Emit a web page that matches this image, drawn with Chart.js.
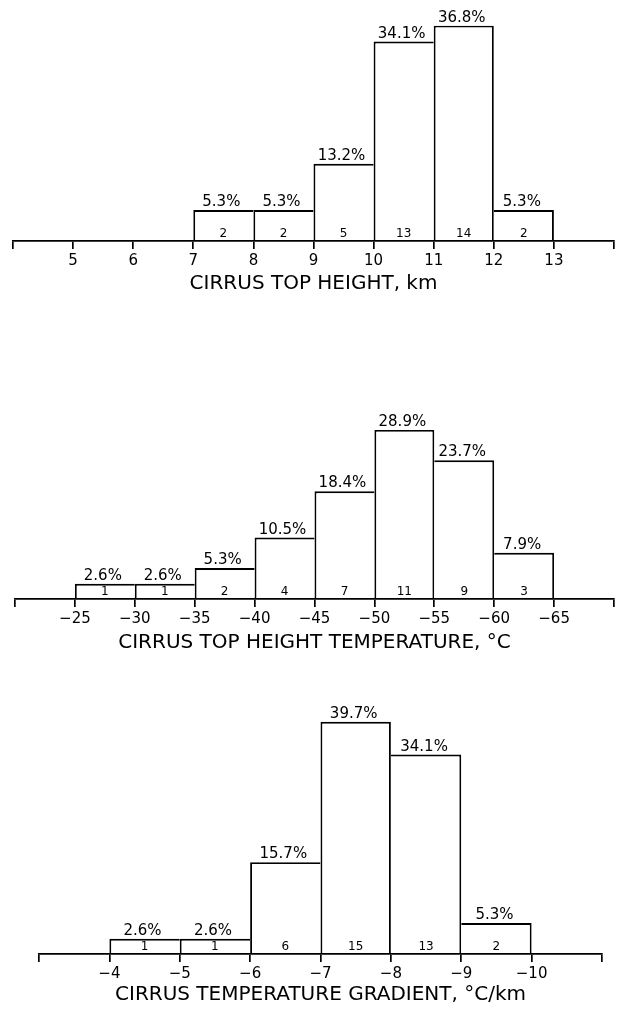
<!DOCTYPE html>
<html>
<head>
<meta charset="utf-8">
<script src="https://cdn.jsdelivr.net/npm/chart.js@4/dist/chart.umd.min.js"></script>
<style>
  html, body { margin: 0; padding: 0; background: #fff; }
  #wrap { position: relative; width: 617px; height: 1010px; overflow: hidden; background: #fff; }
  canvas { position: absolute; left: 0; }
</style>
</head>
<body>
<div id="wrap">
  <canvas id="c1" width="617" height="300" style="top:0px"></canvas>
  <canvas id="c2" width="617" height="320" style="top:340px"></canvas>
  <canvas id="c3" width="617" height="320" style="top:690px"></canvas>
</div>
<script>
// ---------- Data ----------
// Panel 1: cirrus top height, km
const binStarts1 = [7, 8, 9, 10, 11, 12];
const binWidth1 = 1;
const percents1 = [5.3, 5.3, 13.2, 34.1, 36.8, 5.3];
const counts1 = [2, 2, 5, 13, 14, 2];
const tickLabels1 = ['5', '6', '7', '8', '9', '10', '11', '12', '13'];
const title1 = 'CIRRUS TOP HEIGHT, km';

// Panel 2: cirrus top height temperature, °C
const binStarts2 = [-25, -30, -35, -40, -45, -50, -55, -60];
const binWidth2 = -5;
const percents2 = [2.6, 2.6, 5.3, 10.5, 18.4, 28.9, 23.7, 7.9];
const counts2 = [1, 1, 2, 4, 7, 11, 9, 3];
const tickLabels2 = ['−25', '−30', '−35', '−40', '−45', '−50', '−55', '−60', '−65'];
const title2 = 'CIRRUS TOP HEIGHT TEMPERATURE, °C';

// Panel 3: cirrus temperature gradient, °C/km
const binStarts3 = [-4, -5, -6, -7, -8, -9];
const binWidth3 = -1;
const percents3 = [2.6, 2.6, 15.7, 39.7, 34.1, 5.3];
const counts3 = [1, 1, 6, 15, 13, 2];
const tickLabels3 = ['−4', '−5', '−6', '−7', '−8', '−9', '−10'];
const title3 = 'CIRRUS TEMPERATURE GRADIENT, °C/km';

// ---------- Plugin: percent above bars, counts inside ----------
const barText = {
  id: 'barText',
  afterDatasetsDraw(chart, args, opts) {
    const ctx = chart.ctx;
    const meta = chart.getDatasetMeta(0);
    ctx.save();
    ctx.fillStyle = '#000';
    ctx.textAlign = 'center';
    ctx.textBaseline = 'alphabetic';
    meta.data.forEach((bar, i) => {
      ctx.font = '15px "DejaVu Sans"';
      ctx.fillText(opts.percents[i].toFixed(1) + '%', bar.x - 2, bar.y - 4);
      ctx.font = '12px "DejaVu Sans"';
      ctx.fillText(String(opts.counts[i]), bar.x, bar.base - 4);
    });
    ctx.restore();
  }
};

function makeChart(id, cfg) {
  const centers = cfg.starts.map(s => s + cfg.width / 2);
  const n = cfg.percents.length;
  const lw = 1.9;
  const pct = cfg.percents;
  const data = centers.map((c, i) => ({ x: c, y: pct[i] }));
  const labelMap = {};
  cfg.tickValues.forEach((v, i) => { labelMap[v] = cfg.tickLabels[i]; });
  return new Chart(document.getElementById(id), {
    type: 'bar',
    data: {
      datasets: [{
        data: data,
        backgroundColor: '#fff',
        borderColor: '#000',
        borderSkipped: false,
        borderWidth: (c) => {
          const i = c.dataIndex;
          const prev = i > 0 ? pct[i - 1] : -1;
          const next = i < n - 1 ? pct[i + 1] : -1;
          return { top: lw, bottom: 0, left: prev <= pct[i] ? lw : 0, right: next < pct[i] ? lw : 0 };
        },
        inflateAmount: 0,
        barPercentage: 1,
        categoryPercentage: 1
      }]
    },
    options: {
      responsive: false,
      animation: false,
      events: [],
      layout: { padding: cfg.padding },
      plugins: {
        legend: { display: false },
        tooltip: { enabled: false },
        barText: { percents: cfg.percents, counts: cfg.counts }
      },
      scales: {
        x: {
          type: 'linear',
          min: cfg.min,
          max: cfg.max,
          reverse: cfg.reverse,
          offset: false,
          afterFit: (s) => { s.height = cfg.axisHeight; },
          border: { display: true, color: '#000', width: 1.7, z: 1 },
          grid: { offset: false, z: 1, drawOnChartArea: false, drawTicks: true, tickLength: 8, color: '#000', lineWidth: 1.7 },
          ticks: {
            stepSize: cfg.step,
            autoSkip: false,
            maxRotation: 0,
            padding: cfg.tickPad,
            color: '#000',
            font: { family: 'DejaVu Sans', size: 15 },
            callback: (v) => (labelMap[v] !== undefined ? labelMap[v] : '')
          },
          title: {
            display: true,
            text: cfg.title,
            color: '#000',
            font: { family: 'DejaVu Sans', size: 20 },
            padding: { top: 0, bottom: cfg.titlePad }
          }
        },
        y: { display: false, min: 0, max: 40 }
      }
    },
    plugins: [barText]
  });
}

makeChart('c1', {
  starts: binStarts1, width: binWidth1, percents: percents1, counts: counts1,
  tickValues: [5, 6, 7, 8, 9, 10, 11, 12, 13], tickLabels: tickLabels1, title: title1,
  min: 4, max: 14, reverse: false, step: 1,
  padding: { left: 13, right: 3, top: 7, bottom: 0 },
  axisHeight: 59, tickPad: 3, titlePad: 4
});
makeChart('c2', {
  starts: binStarts2, width: binWidth2, percents: percents2, counts: counts2,
  tickValues: [-25, -30, -35, -40, -45, -50, -55, -60, -65], tickLabels: tickLabels2, title: title2,
  min: -70, max: -20, reverse: true, step: 5,
  padding: { left: 15, right: 1, top: 25, bottom: 0 },
  axisHeight: 61, tickPad: 3, titlePad: 5
});
makeChart('c3', {
  starts: binStarts3, width: binWidth3, percents: percents3, counts: counts3,
  tickValues: [-4, -5, -6, -7, -8, -9, -10], tickLabels: tickLabels3, title: title3,
  min: -11, max: -3, reverse: true, step: 1,
  padding: { left: 39, right: 15, top: 30, bottom: 0 },
  axisHeight: 56, tickPad: 3, titlePad: 3
});
</script>
</body>
</html>
